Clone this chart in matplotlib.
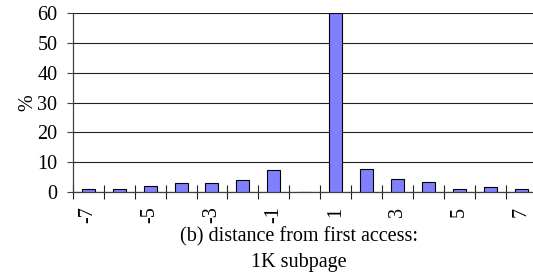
import numpy as np
import matplotlib
matplotlib.use('Agg')
import matplotlib.pyplot as plt

plt.rcParams['font.family'] = ['Liberation Serif', 'DejaVu Serif']

# distance from first access (1K subpage), % of accesses
distances = [-7, -6, -5, -4, -3, -2, -1, 0, 1, 2, 3, 4, 5, 6, 7]
percent = [1.0, 1.1, 2.1, 3.1, 3.1, 4.1, 7.3, 0.0, 60.0, 7.6, 4.2, 3.2, 1.0, 1.7, 1.0]
tick_labels = ['-7', '-5', '-3', '-1', '1', '3', '5', '7']

fs = 14.5

fig = plt.figure(figsize=(5.33, 2.76), dpi=100)
# axes runs slightly past the right edge, like the original crop
ax = fig.add_axes([72.7 / 533, 1 - 192 / 276, (537 - 72.7) / 533, (192 - 13) / 276])

x = np.arange(len(distances))
ax.bar(x, percent, width=0.42, color='#8080ff', edgecolor='black', linewidth=0.8, zorder=3)

ax.set_xlim(-0.5, len(distances) - 0.5)
ax.set_ylim(0, 60)
ax.set_yticks(range(0, 61, 10))
ax.tick_params(axis='y', direction='out', length=4.5, width=0.8, color='#404040',
               labelsize=fs, pad=6.5)

# labels on every other category, tick marks between categories
ax.set_xticks([x[i] for i in range(0, len(distances), 2)])
ax.set_xticklabels(tick_labels, rotation=90, va='top')
ax.set_xticks(np.arange(-0.5, len(distances), 1.0), minor=True)
ax.tick_params(axis='x', which='major', length=0, labelsize=fs, pad=10.5)
ax.tick_params(axis='x', which='minor', direction='inout', length=9.5, width=0.8, color='#202020')

ax.grid(axis='y', color='#202020', linewidth=0.8, zorder=0)
ax.set_axisbelow(True)
for s in ['top', 'right']:
    ax.spines[s].set_visible(False)
for s in ['left', 'bottom']:
    ax.spines[s].set_color('#404040')
    ax.spines[s].set_linewidth(0.9)

ax.set_ylabel('%', fontsize=fs, labelpad=0)
fig.text(299 / 533, 1 - 237 / 276, '(b) distance from first access:', ha='center', va='center', fontsize=fs)
fig.text(299 / 533, 1 - 262 / 276, '1K subpage', ha='center', va='center', fontsize=fs)

fig.savefig('out.png', dpi=100)
